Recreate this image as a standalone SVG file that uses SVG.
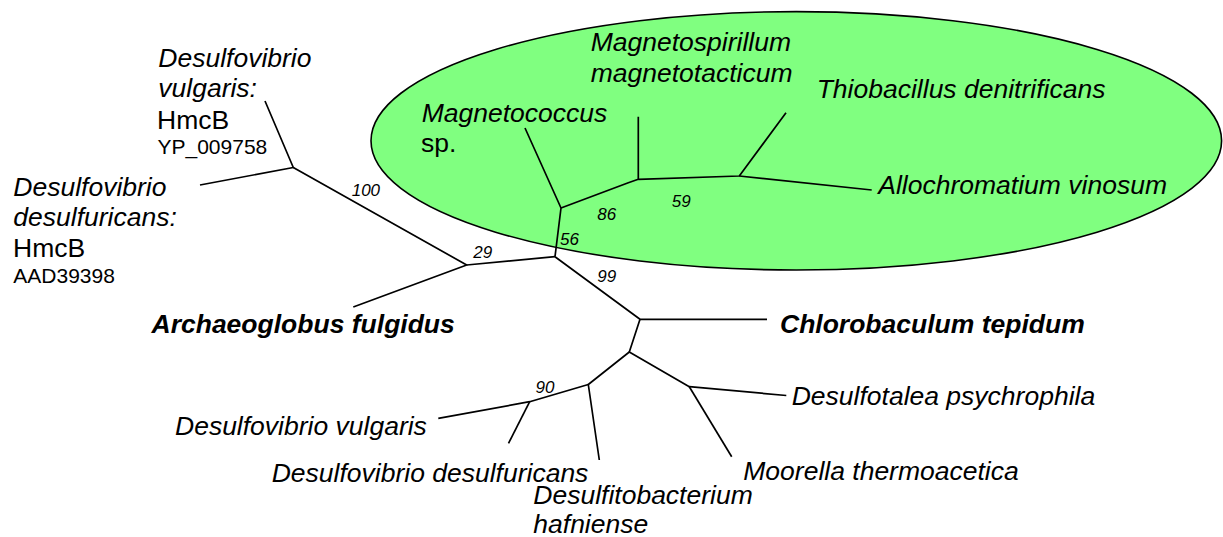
<svg xmlns="http://www.w3.org/2000/svg" width="1223" height="537" viewBox="0 0 1223 537">
<style>
text{font-family:"Liberation Sans",Arial,sans-serif;fill:#000}
.sp{font-size:26.5px;font-style:italic}
.bd{font-size:26.5px;font-style:italic;font-weight:bold}
.pl{font-size:26.5px}
.acc{font-size:21px}
.bs{font-size:17px;font-style:italic}
.e{fill:none;stroke:#000;stroke-width:1.7;stroke-linejoin:round;stroke-linecap:butt}
</style>
<rect width="1223" height="537" fill="#fff"/>
<ellipse id="clade" cx="796.3" cy="140.8" rx="425.3" ry="129.2" fill="#80ff80" stroke="#000" stroke-width="1.6"/>
<g id="connectors">
<polyline class="e" points="265,101 293.3,167.5 200,185"/>
<polyline class="e" points="293.3,167.5 466.7,265 353.3,307"/>
<polyline class="e" points="466.7,265 555,256.7"/>
<polyline class="e" points="555,256.7 561,208 525,128"/>
<polyline class="e" points="561,208 628.3,182.7 638.3,179.3 638.3,116.7"/>
<polyline class="e" points="638.3,179.3 739.3,176 786,112.7"/>
<polyline class="e" points="739.3,176 871.7,190"/>
<polyline class="e" points="555,256.7 640,319.3 767,319.3"/>
<polyline class="e" points="640,319.3 629.3,352 689.3,386.7 786.3,395.5"/>
<polyline class="e" points="689.3,386.7 731.7,456.7"/>
<polyline class="e" points="629.3,352 588.3,384.5 599.3,460"/>
<polyline class="e" points="588.3,384.5 529.7,401.7 438.3,418.3"/>
<polyline class="e" points="529.7,401.7 508.5,443.3"/>
</g>
<g id="bootstrap">
<text class="bs" x="351.7" y="195.7">100</text>
<text class="bs" x="473.3" y="258.3">29</text>
<text class="bs" x="560" y="245">56</text>
<text class="bs" x="597.3" y="220">86</text>
<text class="bs" x="671.7" y="207.3">59</text>
<text class="bs" x="597.3" y="281.7">99</text>
<text class="bs" x="535.5" y="392.5">90</text>
</g>
<g id="node-dv-hmcb">
<text class="sp" x="158.3" y="67">Desulfovibrio</text>
<text class="sp" x="158.3" y="97">vulgaris:</text>
<text class="pl" x="157" y="128.5">HmcB</text>
<text class="acc" x="157.5" y="154">YP_009758</text>
</g>
<g id="node-dd-hmcb">
<text class="sp" x="13.3" y="195.5">Desulfovibrio</text>
<text class="sp" x="13.3" y="226">desulfuricans:</text>
<text class="pl" x="13" y="256.5">HmcB</text>
<text class="acc" x="13.3" y="282.5">AAD39398</text>
</g>
<g id="node-archaeoglobus">
<text class="bd" x="151.5" y="332.5">Archaeoglobus fulgidus</text>
</g>
<g id="node-magnetococcus">
<text class="sp" x="421.7" y="121.7">Magnetococcus</text>
<text class="pl" x="421" y="151.7">sp.</text>
</g>
<g id="node-magnetospirillum">
<text class="sp" x="590.7" y="50.7">Magnetospirillum</text>
<text class="sp" x="590.7" y="81.7">magnetotacticum</text>
</g>
<g id="node-thiobacillus">
<text class="sp" x="816.7" y="98.3">Thiobacillus denitrificans</text>
</g>
<g id="node-allochromatium">
<text class="sp" x="878.3" y="194.3">Allochromatium vinosum</text>
</g>
<g id="node-chlorobaculum">
<text class="bd" x="780" y="332.7">Chlorobaculum tepidum</text>
</g>
<g id="node-desulfotalea">
<text class="sp" x="791.7" y="405">Desulfotalea psychrophila</text>
</g>
<g id="node-moorella">
<text class="sp" x="743.3" y="480">Moorella thermoacetica</text>
</g>
<g id="node-desulfitobacterium">
<text class="sp" x="533.3" y="504">Desulfitobacterium</text>
<text class="sp" x="533.3" y="533">hafniense</text>
</g>
<g id="node-dv">
<text class="sp" x="175" y="435">Desulfovibrio vulgaris</text>
</g>
<g id="node-dd">
<text class="sp" x="271.7" y="481.7">Desulfovibrio desulfuricans</text>
</g>
</svg>
